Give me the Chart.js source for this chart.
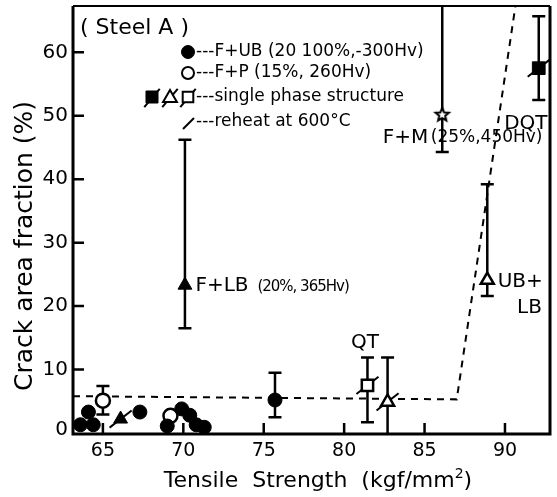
<!DOCTYPE html>
<html>
<head>
<meta charset="utf-8">
<script src="https://cdn.jsdelivr.net/npm/chart.js@4"></script>
<style>
  html, body { margin: 0; padding: 0; background: #fff; }
</style>
</head>
<body>
<canvas id="chart" width="557" height="497"></canvas>
<script>
// values
const fubX = [63.6, 64.1, 64.4, 67.3, 69.0, 69.9, 70.4, 70.8, 71.3, 75.7];   // F+UB, filled circles
const fubY = [1.3, 3.3, 1.3, 3.3, 1.1, 3.8, 2.8, 1.3, 0.9, 5.2];
const fpX = [65.0, 69.2];                                                   // F+P, open circles
const fpY = [5.1, 2.7];
const triFilledX = [66.1, 70.1];                                            // F+LB
const triFilledY = [2.2, 23.3];
const starX = [86.1];                                                       // F+M
const starY = [50.3];
const sqFilledX = [92.1];                                                   // DQT
const sqFilledY = [57.5];
const triOpenX = [88.9, 82.7];                                              // UB+LB, single phase
const triOpenY = [24.1, 4.9];
const sqOpenX = [81.45];                                                    // QT
const sqOpenY = [7.5];
const reheatX = [66.1, 92.1, 81.45, 82.7];                                  // reheat at 600°C
const reheatY = [2.2, 57.5, 7.5, 4.9];

const errX = [65.0, 75.7, 70.1, 86.1, 92.1, 88.9, 81.45, 82.7];
const errLow = [2.9, 2.5, 16.5, 44.3, 52.5, 21.6, 1.7, 0];
const errHigh = [7.4, 9.5, 46.2, 70, 65.7, 39.2, 11.9, 11.9];

const trendX = [63.14, 87.0, 90.65];
const trendY = [5.8, 5.3, 67.3];

const xTicks = [65, 70, 75, 80, 85, 90];
const yTicks = [0, 10, 20, 30, 40, 50, 60];

const FONT = '"DejaVu Sans", sans-serif';
const pts = (xs, ys) => xs.map((x, i) => ({ x: x, y: ys[i] }));

const makeStar = (r) => {
    const c = document.createElement('canvas');
    const s = r * 2 + 6;
    c.width = c.height = s;
    const g = c.getContext('2d');
    g.translate(s / 2, s / 2 + 1);
    g.beginPath();
    for (let i = 0; i < 10; i++) {
        const rr = i % 2 ? r * 0.45 : r;
        const a = -Math.PI / 2 + i * Math.PI / 5;
        g.lineTo(rr * Math.cos(a), rr * Math.sin(a));
    }
    g.closePath();
    g.fillStyle = '#fff';
    g.fill();
    g.lineWidth = 2;
    g.strokeStyle = '#000';
    g.stroke();
    return c;
};
const starImg = makeStar(7);

// error bars, under the markers
const errorBars = {
    id: 'errorBars',
    beforeDatasetsDraw(chart) {
        const { ctx, scales: { x, y }, chartArea } = chart;
        ctx.save();
        ctx.beginPath();
        ctx.rect(chartArea.left, chartArea.top, chartArea.width, chartArea.height);
        ctx.clip();
        ctx.strokeStyle = '#000';
        ctx.lineWidth = 2.5;
        errX.forEach((v, i) => {
            const px = x.getPixelForValue(v);
            const lo = y.getPixelForValue(errLow[i]);
            const hi = y.getPixelForValue(errHigh[i]);
            ctx.beginPath();
            ctx.moveTo(px, lo);
            ctx.lineTo(px, hi);
            [errLow[i], errHigh[i]].forEach(val => {
                if (val > y.min && val < y.max) {
                    const py = y.getPixelForValue(val);
                    ctx.moveTo(px - 6.5, py);
                    ctx.lineTo(px + 6.5, py);
                }
            });
            ctx.stroke();
        });
        ctx.restore();
    }
};

// frame, inward ticks, tick labels, titles, legend and labels
const decorations = {
    id: 'decorations',
    afterDatasetsDraw(chart) {
        const { ctx, scales: { x, y }, chartArea: a } = chart;
        const dp = Chart.helpers.drawPoint;
        ctx.save();
        ctx.strokeStyle = '#000';
        ctx.fillStyle = '#000';

        ctx.lineWidth = 3;
        ctx.beginPath();
        ctx.moveTo(a.left, a.top);
        ctx.lineTo(a.left, a.bottom + 1);
        ctx.lineTo(a.right, a.bottom + 1);
        ctx.lineTo(a.right, a.top);
        ctx.stroke();
        ctx.lineWidth = 2;
        ctx.beginPath();
        ctx.moveTo(a.left, a.top);
        ctx.lineTo(a.right, a.top);
        ctx.stroke();

        ctx.lineWidth = 2.5;
        ctx.beginPath();
        yTicks.forEach(v => {
            if (v === 0) return;
            const py = y.getPixelForValue(v);
            ctx.moveTo(a.left, py);
            ctx.lineTo(a.left + 11, py);
        });
        xTicks.forEach(v => {
            const px = x.getPixelForValue(v);
            ctx.moveTo(px, a.bottom);
            ctx.lineTo(px, a.bottom - 10);
        });
        ctx.stroke();

        // tick labels
        ctx.textBaseline = 'middle';
        ctx.font = '20px ' + FONT;
        ctx.textAlign = 'right';
        yTicks.forEach(v => ctx.fillText(String(v), a.left - 5, y.getPixelForValue(v) - (v === 0 ? 3 : 0)));
        ctx.font = '19px ' + FONT;
        ctx.textAlign = 'center';
        xTicks.forEach(v => ctx.fillText(String(v), x.getPixelForValue(v), a.bottom + 18));

        // axis titles
        ctx.font = '25px ' + FONT;
        ctx.save();
        ctx.translate(25, 246);
        ctx.rotate(-Math.PI / 2);
        ctx.fillText('Crack area fraction (%)', 0, 0);
        ctx.restore();

        ctx.font = '22px ' + FONT;
        ctx.textAlign = 'left';
        const t1 = 'Tensile  Strength  (kgf/mm';
        const w1 = ctx.measureText(t1).width;
        ctx.font = '14px ' + FONT;
        const w2 = ctx.measureText('2').width;
        ctx.font = '22px ' + FONT;
        const w3 = ctx.measureText(')').width;
        let tx = 318 - (w1 + w2 + w3) / 2;
        ctx.fillText(t1, tx, 481);
        ctx.font = '14px ' + FONT;
        ctx.fillText('2', tx + w1, 474);
        ctx.font = '22px ' + FONT;
        ctx.fillText(')', tx + w1 + w2, 481);

        // legend box
        ctx.font = '22px ' + FONT;
        ctx.fillText('( Steel A )', 80, 28);
        const slash = (px, py) => {
            ctx.lineWidth = 2;
            dp(ctx, { pointStyle: 'line', radius: 12, rotation: -50, borderWidth: 2 }, px, py);
        };
        ctx.font = '17px ' + FONT;
        ctx.lineWidth = 1;
        dp(ctx, { pointStyle: 'circle', radius: 6.5, borderWidth: 1 }, 188, 52);
        ctx.fillText('---F+UB (20 100%,-300Hv)', 196, 52);
        ctx.fillStyle = '#fff';
        ctx.lineWidth = 2;
        dp(ctx, { pointStyle: 'circle', radius: 6, borderWidth: 2 }, 188, 73);
        ctx.fillStyle = '#000';
        ctx.fillText('---F+P (15%, 260Hv)', 196, 73);
        slash(152, 98); slash(170, 98); slash(188, 98);
        ctx.lineWidth = 1;
        dp(ctx, { pointStyle: 'rect', radius: 8.5, borderWidth: 1 }, 152, 97);
        ctx.fillStyle = '#fff';
        ctx.lineWidth = 2;
        dp(ctx, { pointStyle: 'triangle', radius: 8, borderWidth: 2 }, 170, 98);
        dp(ctx, { pointStyle: 'rect', radius: 7.5, borderWidth: 2 }, 188, 97);
        ctx.fillStyle = '#000';
        ctx.fillText('---single phase structure', 196, 97);
        ctx.beginPath();
        ctx.lineWidth = 2;
        ctx.moveTo(183, 129);
        ctx.lineTo(194, 118);
        ctx.stroke();
        ctx.fillText('---reheat at 600°C', 196, 122);

        // point labels
        const at = (vx, vy) => [x.getPixelForValue(vx), y.getPixelForValue(vy)];
        let p;
        ctx.font = '20px ' + FONT;
        ctx.textAlign = 'center';
        p = at(81.3, 14.2); ctx.fillText('QT', p[0], p[1]);
        p = at(91.3, 48.8); ctx.fillText('DQT', p[0], p[1]);
        ctx.textAlign = 'left';
        p = at(89.55, 23.9); ctx.fillText('UB+', p[0], p[1]);
        p = at(90.75, 19.8); ctx.fillText('LB', p[0], p[1]);
        p = at(70.75, 23.2); ctx.fillText('F+LB', p[0], p[1]);
        ctx.font = '15px ' + FONT;
        ctx.letterSpacing = '-1px';
        ctx.fillText('(20%, 365Hv)', p[0] + 62, p[1] + 1);
        ctx.letterSpacing = '0px';
        ctx.font = '20px ' + FONT;
        p = at(82.4, 46.6); ctx.fillText('F+M', p[0], p[1]);
        ctx.font = '17px ' + FONT;
        ctx.fillText('(25%,450Hv)', p[0] + 48, p[1]);
        ctx.restore();
    }
};

const ctx = document.getElementById('chart').getContext('2d');
new Chart(ctx, {
    type: 'scatter',
    data: {
        datasets: [
            { type: 'line', data: pts(trendX, trendY), showLine: true, borderColor: '#000', borderWidth: 2,
              borderDash: [7, 6], pointRadius: 0, fill: false, order: 20 },
            { data: pts(reheatX, reheatY), pointStyle: 'line', rotation: -38, pointRadius: 14,
              borderColor: '#000', borderWidth: 2, order: 10 },
            { data: pts(fpX, fpY), pointStyle: 'circle', pointRadius: 7, backgroundColor: '#fff',
              borderColor: '#000', borderWidth: 2.5, order: 6 },
            { data: pts(fubX, fubY), pointStyle: 'circle', pointRadius: 7, backgroundColor: '#000',
              borderColor: '#000', borderWidth: 1, order: 5 },
            { data: pts(triFilledX, triFilledY), pointStyle: 'triangle', pointRadius: 8, backgroundColor: '#000',
              borderColor: '#000', borderWidth: 1, order: 4 },
            { data: pts(triOpenX, triOpenY), pointStyle: 'triangle', pointRadius: 7.5, backgroundColor: '#fff',
              borderColor: '#000', borderWidth: 2.5, order: 4 },
            { data: pts(sqOpenX, sqOpenY), pointStyle: 'rect', pointRadius: 8, backgroundColor: '#fff',
              borderColor: '#000', borderWidth: 2.5, order: 4 },
            { data: pts(sqFilledX, sqFilledY), pointStyle: 'rect', pointRadius: 9, backgroundColor: '#000',
              borderColor: '#000', borderWidth: 1, order: 4 },
            { data: pts(starX, starY), pointStyle: starImg, order: 4 }
        ]
    },
    options: {
        responsive: false,
        animation: false,
        devicePixelRatio: 1,
        layout: { autoPadding: false, padding: { top: 6, right: 7, left: 0, bottom: 0 } },
        plugins: { legend: { display: false }, tooltip: { enabled: false } },
        scales: {
            x: {
                type: 'linear', min: 63.14, max: 92.8,
                afterFit(s) { s.height = 64; },
                grid: { display: false, drawTicks: false },
                border: { display: false },
                ticks: { display: false, stepSize: 5 }
            },
            y: {
                type: 'linear', min: 0, max: 67.3,
                afterFit(s) { s.width = 73; },
                grid: { display: false, drawTicks: false },
                border: { display: false },
                ticks: { display: false, stepSize: 10 }
            }
        }
    },
    plugins: [errorBars, decorations]
});
</script>
</body>
</html>
